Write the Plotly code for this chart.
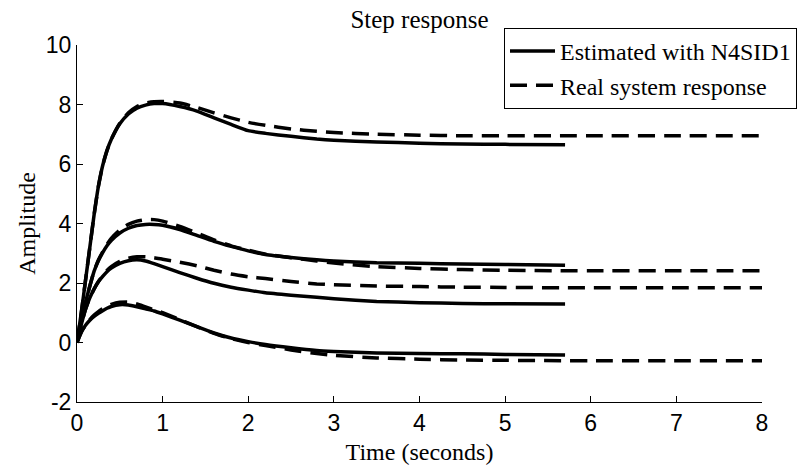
import plotly.graph_objects as go

# Time grids (seconds)
t_est = [0, 0.05, 0.1, 0.15, 0.2, 0.25, 0.3, 0.35, 0.4, 0.5, 0.6, 0.7, 0.8, 0.9, 1.0,
         1.2, 1.4, 1.6, 1.8, 2.0, 2.2, 2.5, 2.8, 3.0, 3.5, 4.0, 4.5, 5.0, 5.7]
t_real = t_est + [6.0, 7.0, 8.0]

# Step responses of the identified N4SID model (four channels)
est_1 = [0, 1.0, 2.1, 3.2, 4.3, 5.25, 5.95, 6.45, 6.82, 7.35, 7.68, 7.88, 7.98, 8.03, 8.03,
         7.93, 7.78, 7.55, 7.33, 7.12, 7.03, 6.93, 6.84, 6.8, 6.74, 6.7, 6.67, 6.66, 6.65]
est_2 = [0, 0.7, 1.35, 1.9, 2.4, 2.75, 3.02, 3.25, 3.43, 3.68, 3.84, 3.93, 3.97, 3.97, 3.94,
         3.8, 3.6, 3.4, 3.23, 3.08, 2.96, 2.86, 2.78, 2.74, 2.68, 2.66, 2.64, 2.62, 2.6]
est_3 = [0, 0.6, 1.12, 1.5, 1.8, 2.04, 2.22, 2.38, 2.5, 2.66, 2.75, 2.78, 2.74, 2.65, 2.55,
         2.35, 2.16, 1.99, 1.86, 1.76, 1.67, 1.59, 1.52, 1.47, 1.38, 1.34, 1.31, 1.3, 1.29]
est_4 = [0, 0.35, 0.58, 0.75, 0.88, 0.98, 1.07, 1.15, 1.21, 1.27, 1.26, 1.2, 1.13, 1.06, 0.96,
         0.75, 0.53, 0.32, 0.15, 0.03, -0.07, -0.18, -0.27, -0.3, -0.35, -0.37, -0.38, -0.4,
         -0.42]

# Step responses of the real system
real_1 = [0, 1.0, 2.1, 3.2, 4.3, 5.25, 5.95, 6.45, 6.83, 7.37, 7.72, 7.93, 8.05, 8.09, 8.1,
          8.05, 7.9, 7.72, 7.55, 7.4, 7.3, 7.18, 7.1, 7.06, 7.0, 6.97, 6.95, 6.95, 6.95,
          6.95, 6.95, 6.95]
real_2 = [0, 0.7, 1.35, 1.9, 2.4, 2.77, 3.05, 3.3, 3.5, 3.78, 3.97, 4.08, 4.13, 4.13, 4.08,
          3.9, 3.68, 3.45, 3.25, 3.1, 2.97, 2.85, 2.74, 2.67, 2.55, 2.49, 2.45, 2.43, 2.41,
          2.41, 2.41, 2.41]
real_3 = [0, 0.6, 1.12, 1.5, 1.8, 2.05, 2.25, 2.42, 2.55, 2.73, 2.83, 2.88, 2.88, 2.85, 2.8,
          2.7, 2.58, 2.43, 2.3, 2.21, 2.15, 2.05, 1.97, 1.94, 1.9, 1.88, 1.86, 1.85, 1.84,
          1.84, 1.84, 1.84]
real_4 = [0, 0.35, 0.58, 0.77, 0.92, 1.04, 1.14, 1.22, 1.28, 1.35, 1.36, 1.3, 1.2, 1.1, 1.0,
          0.77, 0.53, 0.31, 0.13, 0.0, -0.1, -0.25, -0.37, -0.43, -0.52, -0.56, -0.59, -0.6,
          -0.61, -0.61, -0.61, -0.61]

x_ticks = [0, 1, 2, 3, 4, 5, 6, 7, 8]
y_ticks = [-2, 0, 2, 4, 6, 8, 10]

SERIF = "Liberation Serif, Times New Roman, serif"
SANS = "Liberation Sans, Arial, sans-serif"

fig = go.Figure()

for i, y in enumerate([est_1, est_2, est_3, est_4]):
    fig.add_trace(go.Scatter(
        x=t_est, y=y, mode="lines", name="Estimated with N4SID1",
        legendgroup="est", showlegend=(i == 0),
        line=dict(color="black", width=3.5, shape="spline", smoothing=0.5),
    ))

for i, y in enumerate([real_1, real_2, real_3, real_4]):
    fig.add_trace(go.Scatter(
        x=t_real, y=y, mode="lines", name="Real system response",
        legendgroup="real", showlegend=(i == 0),
        line=dict(color="black", width=3.5, dash="17px,9px", shape="spline", smoothing=0.5),
    ))

axis_common = dict(
    showgrid=False, zeroline=False, showline=True, linecolor="black", linewidth=1,
    ticks="inside", ticklen=6, tickcolor="black", tickwidth=1, mirror=False,
    tickfont=dict(family=SANS, size=23, color="black"),
)

fig.update_layout(
    width=799, height=466,
    margin=dict(l=77, r=37, t=45, b=64, pad=0, autoexpand=False),
    paper_bgcolor="white", plot_bgcolor="white",
    title=dict(text="Step response", x=0.5, xref="paper", y=1 - 19 / 466, yref="container",
               xanchor="center", yanchor="middle",
               font=dict(family=SERIF, size=25, color="black")),
    xaxis=dict(range=[0, 8], tickvals=x_ticks, ticktext=[str(v) for v in x_ticks],
               title=dict(text="Time (seconds)", font=dict(family=SERIF, size=24, color="black"),
                          standoff=8),
               **axis_common),
    yaxis=dict(range=[-2, 10], tickvals=y_ticks, ticktext=[str(v) for v in y_ticks],
               title=dict(text="Amplitude", font=dict(family=SERIF, size=24, color="black"),
                          standoff=3),
               **axis_common),
    legend=dict(x=(504 - 77) / 685, y=(402 - 28) / 357, xanchor="left", yanchor="top",
                bordercolor="black", borderwidth=1, bgcolor="white",
                font=dict(family=SERIF, size=24, color="black"),
                itemwidth=45, tracegroupgap=0),
)

fig.write_html("out.html")
